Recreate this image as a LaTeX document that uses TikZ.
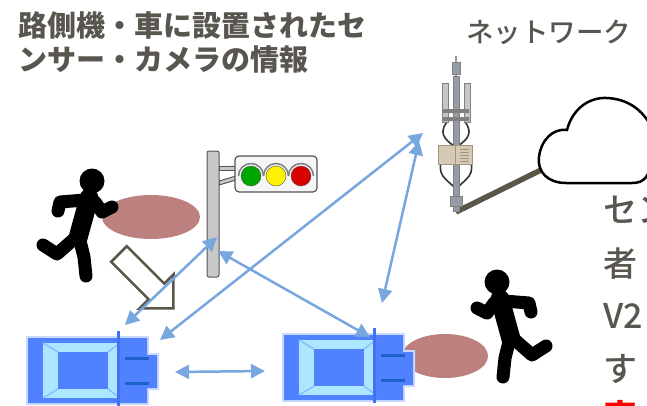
\documentclass[tikz,border=0pt]{standalone}
\usepackage{fontspec}
\newfontfamily\jpfont{Noto Sans CJK JP}
\newfontfamily\jpmed{Noto Sans CJK JP Medium}
\usetikzlibrary{arrows.meta}

\definecolor{textgray}{RGB}{88,86,78}
\definecolor{linkblue}{RGB}{120,166,222}
\definecolor{spotpink}{RGB}{188,128,126}
\definecolor{carblue}{RGB}{80,130,255}
\definecolor{carcyan}{RGB}{172,230,255}
\definecolor{carpillar}{RGB}{58,108,238}
\definecolor{carlamp}{RGB}{28,98,200}
\definecolor{polegray}{RGB}{200,200,200}
\definecolor{edgegray}{RGB}{85,85,85}
\definecolor{mastgray}{RGB}{150,156,166}
\definecolor{panelgray}{RGB}{196,198,202}
\definecolor{boxbeige}{RGB}{214,202,181}
\definecolor{boxedge}{RGB}{160,148,128}
\definecolor{cabledark}{RGB}{90,86,72}

\tikzset{
  runner/.pic={
    \fill (0,0) circle (12.5);
    \draw[line width=19pt,line cap=round] (-3,17) -- (-14,57);
    \draw[limb] (-7,19) -- (-32,21) -- (-34,30);
    \draw[limb] (3,21) -- (10,31) -- (20,26);
    \draw[limb] (-18,58) -- (-35,73) -- (-49,64);
    \draw[limb] (-12,60) -- (-8,76) -- (-6,95);
  },
  car/.pic={
    \fill[carblue!30] (-2,-2) rectangle (121,67) (117,15) rectangle (131,52);
    \fill[carblue] (0,0) rectangle (119,65) (119,17) rectangle (129,50);
    \fill[carcyan] (15,5) rectangle (92,60);
    \fill[carblue] (30,14) rectangle (80,51);
    \draw[carcyan!60!carblue,line width=1.5pt]
      (15,5) -- (30,14) (92,5) -- (80,14) (15,60) -- (30,51) (92,60) -- (80,51);
    \fill[carpillar!70!carblue] (89,-7) rectangle (92,68);
    \draw[carlamp,line width=3pt] (97,20) -- (121,20) (97,45) -- (121,45);
  }
}

\begin{document}
\begin{tikzpicture}[x=1pt,y=-1pt,
  limb/.style={line width=13pt,line cap=round,line join=round},
  link/.style={{Triangle[length=14pt,width=14pt]}-{Triangle[length=14pt,width=14pt]},
    line width=2.5pt,draw=linkblue},
  title/.style={font=\jpfont\bfseries\fontsize{29}{32}\selectfont,text=textgray,inner sep=0pt,anchor=base west},
  body/.style={font=\jpmed\fontsize{34}{40}\selectfont,text=textgray,inner sep=0pt,anchor=base west},
  cable/.style={draw=black!80,line width=1.6pt},
  hood/.style={draw=gray,line width=1.5pt}]
  \clip (0,0) rectangle (647,405);
  \fill[white] (0,0) rectangle (647,405);

  \node[title] (title1) at (18,36) {路側機・車に設置されたセ};
  \node[title] (title2) at (18,70) {ンサー・カメラの情報};
  \node[body,font=\jpmed\fontsize{27.5}{32}\selectfont] (net) at (466,42) {ネットワーク};

  \node[body] (line1) at (603,222) {セン};
  \node[body] (line2) at (603,276) {者};
  \node[body] (line3) at (603,328) {V2};
  \node[body] (line4) at (603,381) {す};
  \node[body,font=\jpfont\bfseries\fontsize{34}{40}\selectfont,text=red] (line5) at (603,429) {安};

  % cloud and cable
  \draw[line width=5.5pt,cabledark] (456,212) -- (545,168);
  \filldraw[fill=white,draw=black,line width=2.5pt]
    (652,160) .. controls (649,176) and (645,183) .. (632,183) -- (566,183)
    .. controls (548,183) and (537,172) .. (539,157)
    .. controls (541,140) and (553,128) .. (567,130)
    .. controls (572,110) and (588,97) .. (607,98)
    .. controls (628,99) and (643,110) .. (652,128);

  % antenna mast
  \draw[cable] (447,122) .. controls (436,136) and (450,142) .. (456,148);
  \draw[cable] (465,122) .. controls (476,136) and (462,142) .. (456,148);
  \draw[cable] (441,163) .. controls (437,178) and (452,182) .. (456,190);
  \draw[cable] (471,163) .. controls (475,178) and (460,182) .. (456,190);
  \draw[mastgray,line width=2pt] (456,56) -- (456,76);
  \filldraw[fill=mastgray,draw=gray] (452,62) rectangle (460,74);
  \filldraw[fill=mastgray,draw=gray] (453,76) rectangle (459,198);
  \filldraw[fill=panelgray,draw=gray] (442,83) rectangle (448,122) (464,83) rectangle (470,122);
  \fill[gray] (443,109) rectangle (469,113) (443,117) rectangle (469,121);
  \filldraw[fill=boxbeige,draw=boxedge] (438,145) rectangle (472,164);
  \draw[boxedge] (455,145) -- (455,164);
  \foreach \y in {149,152,...,161}
    \draw[boxedge] (460,\y) -- (469,\y);
  \filldraw[fill=mastgray,draw=gray] (450,196) rectangle (462,206) (453,206) rectangle (459,211);

  % traffic light
  \filldraw[fill=polegray,draw=edgegray,line width=1pt] (219,166) rectangle (236,170);
  \filldraw[fill=polegray,draw=edgegray,line width=1pt] (219,181) -- (236,176) -- (236,180) -- (219,185) -- cycle;
  \filldraw[fill=polegray,draw=edgegray,line width=1pt,rounded corners=2pt] (207,151) rectangle (219,277);
  \filldraw[fill=black!4,draw=edgegray,line width=1.2pt,rounded corners=4pt] (235,156) rectangle (317,192);
  \foreach \x/\c in {251/green!65!black,276/yellow,301/red!85!black}{
    \draw[hood] (\x-12.5,176) arc (180:360:12.5);
    \filldraw[fill=\c,draw=edgegray] (\x,176) circle (10);
  }

  % people and their spots
  \fill[spotpink] (151,217) ellipse [x radius=49,y radius=22];
  \fill[spotpink] (445,356) ellipse [x radius=43,y radius=22];
  \pic at (92,181) {runner};
  \pic[xscale=-1] at (497,282) {runner};

  \filldraw[fill=white,draw=cabledark,line width=2.5pt]
    (126.8,246.2) -- (164.3,283.7) -- (173.5,274.5) -- (173.4,308.4)
    -- (139.5,308.5) -- (148.7,299.3) -- (111.2,261.8) -- cycle;

  \pic at (28,338) {car};
  \pic at (284,335) {car};

  \coordinate (sig1) at (217,237);
  \coordinate (sig2) at (218,251);
  \coordinate (ant1) at (423,133);
  \coordinate (ant2) at (419,141);
  \coordinate (carL1) at (125,325);
  \coordinate (carL2) at (160,340);
  \coordinate (carL3) at (175,372);
  \coordinate (carR1) at (370,337);
  \coordinate (carR2) at (382,303);
  \coordinate (carR3) at (265,371);

  \draw[link] (sig1) -- (carL1);
  \draw[link] (ant1) -- (carL2);
  \draw[link] (sig2) -- (carR1);
  \draw[link] (ant2) -- (carR2);
  \draw[link] (carL3) -- (carR3);
\end{tikzpicture}
\end{document}
